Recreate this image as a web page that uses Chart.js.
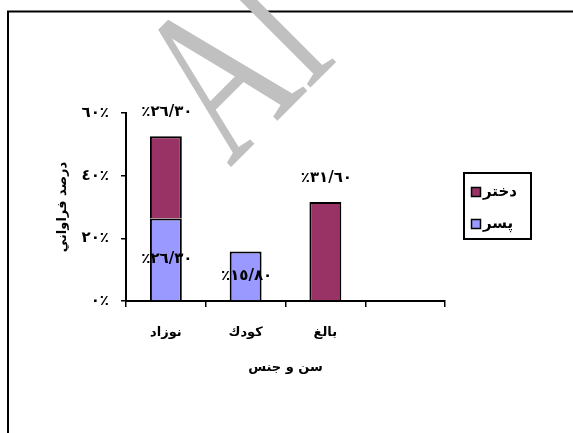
<!DOCTYPE html>
<html lang="fa">
<head>
<meta charset="UTF-8">
<title>سن و جنس</title>
<script src="https://cdn.jsdelivr.net/npm/chart.js"></script>
<style>
  html, body { margin: 0; padding: 0; background: #fff; }
</style>
</head>
<body>
<canvas id="myChart" width="573" height="433"></canvas>
<script>
  // داده ها
  const categories = ['نوزاد', 'كودك', 'بالغ', ''];
  const seriesNames = ['پسر', 'دختر'];
  const boys = [26.3, 15.8, null, null];
  const girls = [26.3, null, 31.6, null];
  const seriesColors = ['#9999FF', '#993366'];
  const yTickStep = 20;
  const yMax = 60;

  // ارقام عربی
  function toAr(s) {
    return String(s).replace(/[0-9]/g, d => '٠١٢٣٤٥٦٧٨٩'[d]);
  }
  function fmtLabel(v) {
    return '٪' + toAr(v.toFixed(2).replace('.', '/'));
  }

  const fontFam = '"DejaVu Sans", sans-serif';

  const decor = {
    id: 'decor',
    beforeDraw(chart) {
      const ctx = chart.ctx;
      // قاب
      ctx.save();
      ctx.strokeStyle = '#000';
      ctx.lineWidth = 2;
      ctx.strokeRect(8, 11.5, 700, 600);
      ctx.restore();
      // واترمارک
      ctx.save();
      ctx.translate(230, 168);
      ctx.rotate(-Math.PI / 4);
      ctx.scale(0.68, 1);
      ctx.fillStyle = '#c0c0c0';
      ctx.font = '225px "Liberation Serif"';
      ctx.textBaseline = 'alphabetic';
      ctx.fillText('Al', 0, 0);
      ctx.restore();
    },
    afterDatasetsDraw(chart) {
      const ctx = chart.ctx;
      ctx.save();
      ctx.fillStyle = '#000';
      ctx.font = 'bold 15px ' + fontFam;
      ctx.textAlign = 'center';
      ctx.textBaseline = 'middle';
      ctx.direction = 'ltr';
      chart.data.datasets.forEach((ds, di) => {
        const meta = chart.getDatasetMeta(di);
        meta.data.forEach((el, i) => {
          const v = ds.data[i];
          if (v == null) return;
          const y = di === 0 ? (el.y + el.base) / 2 : el.y - 24;
          ctx.fillText(fmtLabel(v), el.x + 1, y);
        });
      });
      ctx.restore();
    },
    afterDraw(chart) {
      const ctx = chart.ctx;
      ctx.save();
      ctx.strokeStyle = '#000';
      ctx.lineWidth = 2;
      ctx.strokeRect(464, 173, 67, 66);
      ctx.font = 'bold 15px ' + fontFam;
      ctx.textBaseline = 'middle';
      ctx.textAlign = 'left';
      const rows = [192, 224];
      const order = [1, 0];
      order.forEach((di, r) => {
        const ds = chart.data.datasets[di];
        ctx.fillStyle = ds.backgroundColor;
        ctx.fillRect(471.5, rows[r] - 4.5, 9, 9);
        ctx.lineWidth = 1.5;
        ctx.strokeRect(471.5, rows[r] - 4.5, 9, 9);
        ctx.fillStyle = '#000';
        ctx.fillText(ds.label, 483, rows[r]);
      });
      ctx.restore();
    }
  };

  const ctx = document.getElementById('myChart').getContext('2d');
  new Chart(ctx, {
    type: 'bar',
    data: {
      labels: categories,
      datasets: [
        {
          label: seriesNames[0],
          data: boys,
          backgroundColor: seriesColors[0],
          borderColor: '#000',
          borderWidth: 2,
          barPercentage: 0.4,
          categoryPercentage: 1
        },
        {
          label: seriesNames[1],
          data: girls,
          backgroundColor: seriesColors[1],
          borderColor: '#000',
          borderWidth: 2,
          barPercentage: 0.4,
          categoryPercentage: 1
        }
      ]
    },
    options: {
      responsive: false,
      animation: false,
      layout: { padding: { left: 51, right: 128, top: 113, bottom: 54 } },
      plugins: {
        legend: { display: false },
        tooltip: { enabled: false }
      },
      scales: {
        x: {
          stacked: true,
          grid: { drawOnChartArea: false, drawTicks: true, tickLength: 6, color: '#000', lineWidth: 1.5, offset: true },
          border: { display: true, color: '#000', width: 2 },
          ticks: { padding: 18, color: '#000', font: { family: fontFam, size: 13, weight: 'bold' } },
          title: { display: true, text: 'سن و جنس', color: '#000', font: { family: fontFam, size: 13, weight: 'bold' } },
          afterFit(scale) { scale.height = 78; }
        },
        y: {
          stacked: true,
          min: 0,
          max: yMax,
          grid: { drawOnChartArea: false, drawTicks: true, tickLength: 5, color: '#000', lineWidth: 1.5 },
          border: { display: true, color: '#000', width: 2 },
          ticks: {
            stepSize: yTickStep,
            padding: 12,
            color: '#000',
            font: { family: fontFam, size: 15, weight: 'bold' },
            callback: v => toAr(v) + '٪'
          },
          title: { display: true, text: 'درصد فراواني', color: '#000', font: { family: fontFam, size: 13, weight: 'bold' } },
          afterFit(scale) { scale.width = 75; }
        }
      }
    },
    plugins: [decor]
  });
</script>
</body>
</html>
